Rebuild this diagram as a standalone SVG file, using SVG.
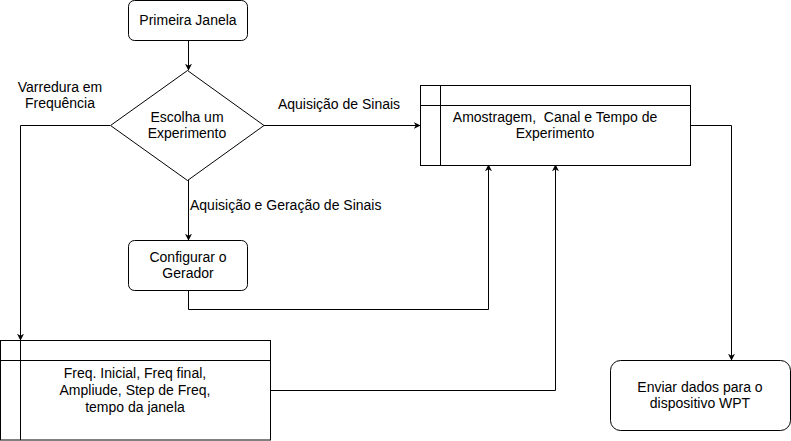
<svg xmlns="http://www.w3.org/2000/svg" width="791" height="441" viewBox="0 0 791 441">
<defs>
<marker id="arr" viewBox="0 0 10 10" refX="9" refY="5" markerWidth="7" markerHeight="7" markerUnits="userSpaceOnUse" orient="auto">
<path d="M0,0 L10,5 L0,10 L3,5 Z" fill="#000"/>
</marker>
</defs>
<style>
.box{fill:#fff;stroke:#000;stroke-width:1}
.ln{fill:none;stroke:#000;stroke-width:1}
.edge{fill:none;stroke:#000;stroke-width:1;marker-end:url(#arr)}
text{font-family:"Liberation Sans",Arial,sans-serif;font-size:14px;fill:#000;text-anchor:middle;white-space:pre}
</style>
<rect width="791" height="441" fill="#fff"/>
<g id="connectors">
<path class="edge" d="M188.5,40 V70"/>
<path class="edge" d="M110,125.5 H20.5 V340"/>
<path class="edge" d="M264,125.5 H420"/>
<path class="edge" d="M188.5,180 V240"/>
<path class="edge" d="M188.5,290 V309.5 H488.5 V165"/>
<path class="edge" d="M691,125.5 H731.5 V360"/>
<path class="edge" d="M270,390.5 H555.5 V165"/>
<text x="60" y="92">Varredura em</text>
<text x="60" y="108">Frequência</text>
<text x="339" y="109">Aquisição de Sinais</text>
<text x="190" y="210" style="text-anchor:start">Aquisição e Geração de Sinais</text>
</g>
<g id="primeira">
<rect class="box" x="128.5" y="0.5" width="119" height="40" rx="6"/>
<text x="188" y="25">Primeira Janela</text>
</g>
<g id="escolha">
<path class="box" d="M187.5,70.5 L264,125.5 L187.5,180.5 L110.5,125.5 Z"/>
<text x="187" y="122">Escolha um</text>
<text x="187" y="138">Experimento</text>
</g>
<g id="configurar">
<rect class="box" x="128.5" y="240.5" width="119" height="50" rx="6"/>
<text x="188" y="262">Configurar o</text>
<text x="188" y="278">Gerador</text>
</g>
<g id="amostragem">
<rect class="box" x="420.5" y="85.5" width="270" height="80"/>
<path class="ln" d="M420.5,105.5 H690.5 M440.5,85.5 V165.5"/>
<text x="555" y="122">Amostragem,  Canal e Tempo de</text>
<text x="555" y="138">Experimento</text>
</g>
<g id="freq">
<rect class="box" x="0.5" y="340.5" width="270" height="99.5"/>
<path class="ln" d="M0.5,360.5 H270.5 M20.5,340.5 V440"/>
<text x="135" y="378">Freq. Inicial, Freq final,</text>
<text x="135" y="395">Ampliude, Step de Freq,</text>
<text x="135" y="412">tempo da janela</text>
</g>
<g id="enviar">
<rect class="box" x="610.5" y="360.5" width="180" height="70" rx="10"/>
<text x="700" y="392">Enviar dados para o</text>
<text x="700" y="408">dispositivo WPT</text>
</g>
</svg>
